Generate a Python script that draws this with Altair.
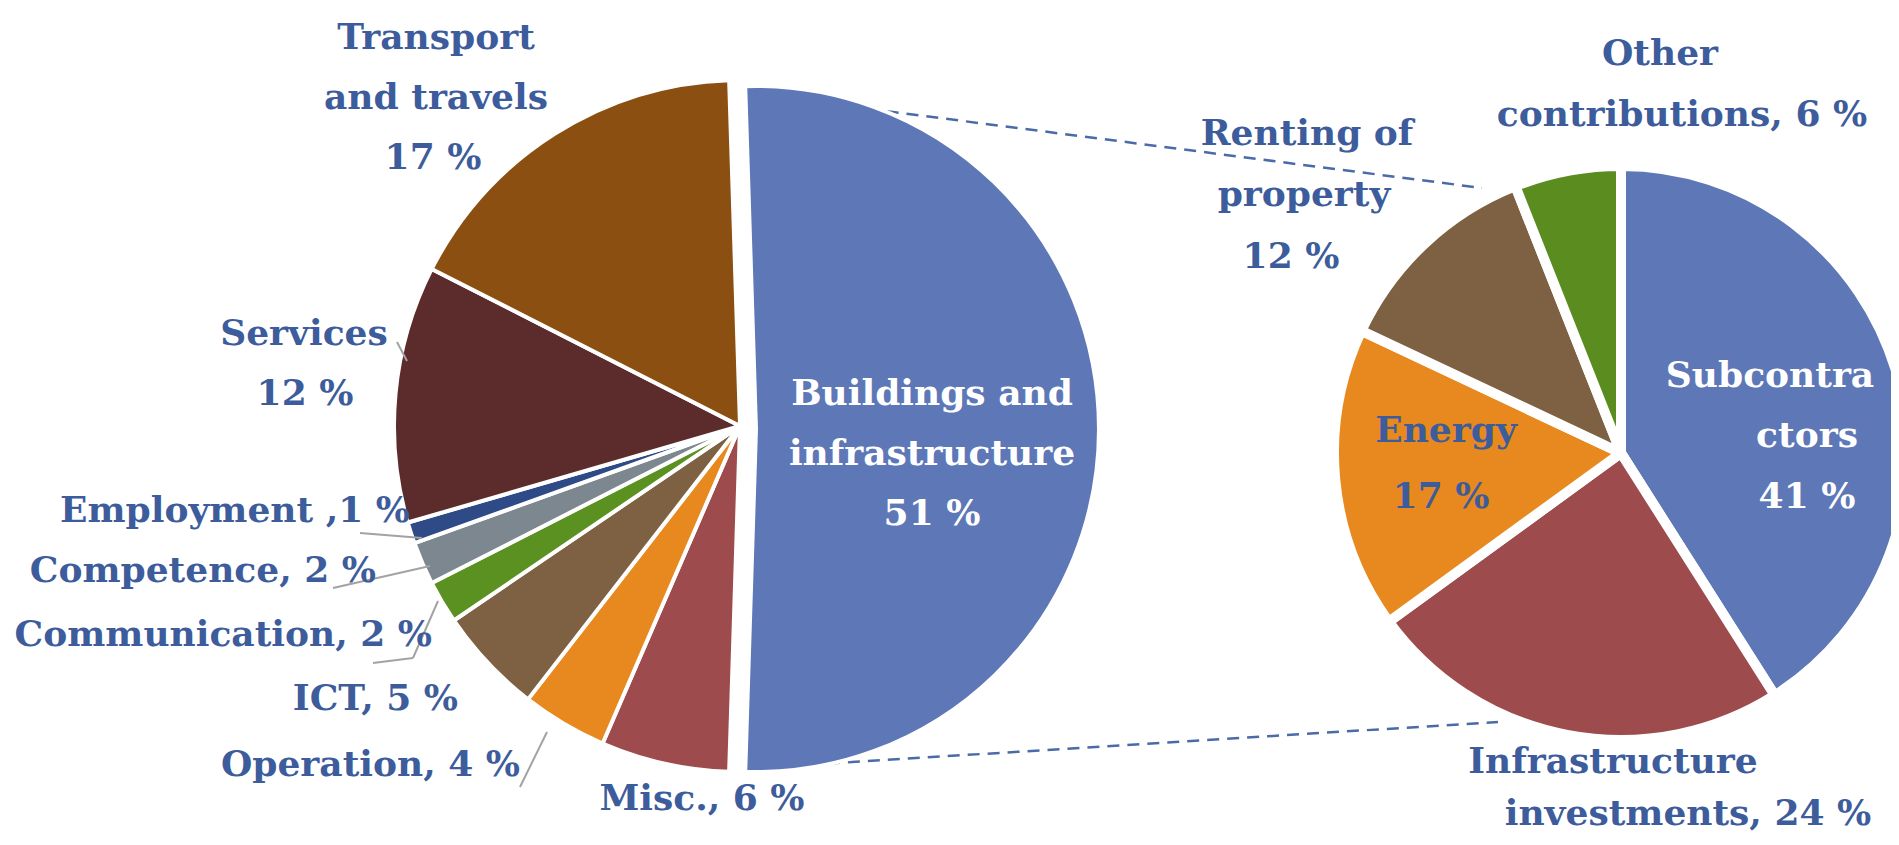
import altair as alt
import pandas as pd
import math

# ---------------- data ----------------
left_cats = ["Buildings and infrastructure", "Misc.", "Operation", "ICT",
             "Communication", "Competence", "Employment", "Services",
             "Transport and travels"]
left_vals = [51, 6, 4, 5, 2, 2, 1, 12, 17]
left_colors = ["#5D77B7", "#9D4B4D", "#E8891F", "#7E6142",
               "#5B9121", "#7C8790", "#2E4A87", "#5C2C2C", "#8B4F12"]

right_cats = ["Subcontractors", "Infrastructure investments", "Energy",
              "Renting of property", "Other contributions"]
right_vals = [41, 24, 17, 12, 6]
right_colors = ["#5D77B7", "#9D4B4D", "#E8891F", "#7E6142", "#5B8C1F"]

exploded = "Buildings and infrastructure"

# ---------------- label layout (annotation text) ----------------
BLUE = "#3D5C9C"
labels = [
    # text, x, y, align, colour
    ("Transport", 428, 30, "center", BLUE),
    ("and travels", 428, 90, "center", BLUE),
    ("17 %", 425, 150, "center", BLUE),
    ("Services", 296, 326, "center", BLUE),
    ("12 %", 297, 386, "center", BLUE),
    ("Employment ,1 %", 402, 503, "right", BLUE),
    ("Competence, 2 %", 368, 563, "right", BLUE),
    ("Communication, 2 %", 424, 627, "right", BLUE),
    ("ICT, 5 %", 450, 691, "right", BLUE),
    ("Operation, 4 %", 512, 757, "right", BLUE),
    ("Misc., 6 %", 694, 791, "center", BLUE),
    ("Buildings and", 924, 386, "center", "white"),
    ("infrastructure", 924, 446, "center", "white"),
    ("51 %", 924, 506, "center", "white"),
    ("Other", 1652, 46, "center", BLUE),
    ("contributions, 6 %", 1674, 107, "center", BLUE),
    ("Renting of", 1299, 126, "center", BLUE),
    ("property", 1296, 187, "center", BLUE),
    ("12 %", 1283, 249, "center", BLUE),
    ("Subcontra", 1762, 368, "center", "white"),
    ("ctors", 1799, 428, "center", "white"),
    ("41 %", 1799, 489, "center", "white"),
    ("Energy", 1438, 423, "center", BLUE),
    ("17 %", 1433, 489, "center", BLUE),
    ("Infrastructure", 1605, 754, "center", BLUE),
    ("investments, 24 %", 1680, 806, "center", BLUE),
]

leaders = [
    # x, y, x2, y2
    (389, 334, 399, 353),
    (352, 525, 414, 530),
    (325, 580, 422, 558),
    (365, 655, 405, 650),
    (405, 650, 430, 593),
    (512, 779, 539, 724),
]
connectors = [
    (839, 98, 1474, 180),
    (780, 758, 1490, 714),
]

W, H = 1883, 829
LCX, LCY, LR = 732, 418, 346          # centre / radius of the left pie
BCX, BCY, BR = 748, 421, 343          # exploded slice
RCX, RCY, RR = 1613, 445, 287         # right pie
ROT = -math.radians(1.8)              # start angle of left pie

# ---------------- frames ----------------
left_df = pd.DataFrame({"idx": range(len(left_cats)), "cat": left_cats, "value": left_vals})
right_df = pd.DataFrame({"idx": range(len(right_cats)), "cat": right_cats, "value": right_vals})
lab_df = pd.DataFrame(labels, columns=["text", "x", "y", "align", "col"])
lead_df = pd.DataFrame(leaders, columns=["x", "y", "x2", "y2"])
conn_df = pd.DataFrame(connectors, columns=["x", "y", "x2", "y2"])

color_scale = alt.Scale(domain=left_cats + right_cats, range=left_colors + right_colors)
left_theta = alt.Scale(domain=[0, 100], range=[ROT, ROT + 2 * math.pi])
right_theta = alt.Scale(domain=[0, 100], range=[0, 2 * math.pi])


def pie(df):
    return alt.Chart(df).transform_window(
        cum="sum(value)", sort=[alt.SortField("idx")], frame=[None, 0]
    ).transform_calculate(start="datum.cum - datum.value")


def arc_enc(cx, cy, tscale):
    return dict(
        theta=alt.Theta("start:Q", scale=tscale),
        theta2="cum:Q",
        color=alt.Color("cat:N", scale=color_scale, legend=None),
        x=alt.value(cx),
        y=alt.value(cy),
    )


left_rest = pie(left_df).transform_filter(alt.datum.cat != exploded).mark_arc(
    radius=LR, stroke="white", strokeWidth=4, strokeJoin="round"
).encode(**arc_enc(LCX, LCY, left_theta))

left_big = pie(left_df).transform_filter(alt.datum.cat == exploded).mark_arc(
    radius=BR, stroke="white", strokeWidth=4, strokeJoin="round"
).encode(**arc_enc(BCX, BCY, left_theta))

left_pie = alt.layer(left_rest, left_big)

right_pie = pie(right_df).mark_arc(
    radius=RR, stroke="white", strokeWidth=10, strokeJoin="round"
).encode(**arc_enc(RCX, RCY, right_theta))

rule_enc = dict(
    x=alt.X("x:Q", scale=None), y=alt.Y("y:Q", scale=None),
    x2="x2:Q", y2="y2:Q",
)
leader_layer = alt.Chart(lead_df).mark_rule(color="#A3A3A3", strokeWidth=2).encode(**rule_enc)
conn_layer = alt.Chart(conn_df).mark_rule(
    color="#4A6AA8", strokeWidth=2.5, strokeDash=[12, 8]
).encode(**rule_enc)

FONT = "DejaVu Serif"
FS = 36


def text_layer(align, col):
    return alt.Chart(lab_df).transform_filter(
        (alt.datum.align == align) & (alt.datum.col == col)
    ).mark_text(
        font=FONT, fontSize=FS, fontWeight="bold", align=align,
        baseline="middle", color=col
    ).encode(
        x=alt.X("x:Q", scale=None), y=alt.Y("y:Q", scale=None), text="text:N"
    )


chart = alt.layer(
    conn_layer,
    left_pie,
    right_pie,
    leader_layer,
    text_layer("center", BLUE),
    text_layer("right", BLUE),
    text_layer("center", "white"),
).resolve_scale(theta="independent").properties(
    width=W, height=H, padding=0, autosize=alt.AutoSizeParams(type="none")
).configure_view(stroke=None)

chart.save("out.html", embed_options={"renderer": "svg", "actions": False})
